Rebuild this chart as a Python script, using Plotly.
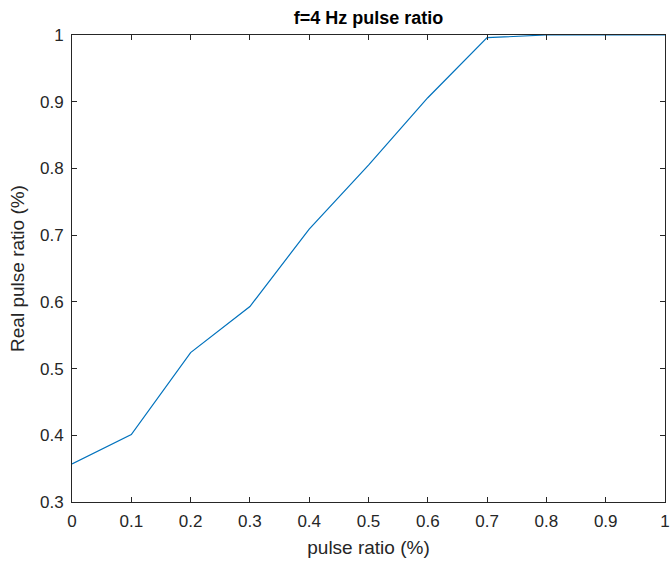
import plotly.graph_objects as go

pulse_ratio = [0, 0.1, 0.2, 0.3, 0.4, 0.5, 0.6, 0.7, 0.8, 0.9, 1.0]
real_ratio = [0.357, 0.401, 0.524, 0.593, 0.709, 0.805, 0.906, 0.996, 1.0, 1.0, 1.0]
x_ticks = [0, 0.1, 0.2, 0.3, 0.4, 0.5, 0.6, 0.7, 0.8, 0.9, 1]
x_tick_labels = ["0", "0.1", "0.2", "0.3", "0.4", "0.5", "0.6", "0.7", "0.8", "0.9", "1"]
y_ticks = [0.3, 0.4, 0.5, 0.6, 0.7, 0.8, 0.9, 1.0]
y_tick_labels = ["0.3", "0.4", "0.5", "0.6", "0.7", "0.8", "0.9", "1"]

font_family = "Liberation Sans, Arial, sans-serif"

fig = go.Figure()
fig.add_trace(go.Scatter(
    x=pulse_ratio, y=real_ratio, mode="lines",
    line=dict(color="#0072BD", width=1.2),
    showlegend=False,
))

axis_common = dict(
    showline=True, linecolor="#262626", linewidth=1, mirror="ticks",
    ticks="inside", ticklen=5, tickcolor="#262626", tickwidth=1,
    showgrid=False, zeroline=False, ticklabeloverflow="allow",
    automargin=False,
    tickfont=dict(family=font_family, size=17, color="#262626"),
)

fig.update_layout(
    width=670, height=563,
    margin=dict(l=72, r=5, t=35, b=61, autoexpand=False),
    paper_bgcolor="white", plot_bgcolor="white",
    title=dict(text="<b>f=4 Hz pulse ratio</b>", x=0.5, xanchor="center",
               xref="paper", y=1, yref="paper", yanchor="bottom",
               pad=dict(b=11),
               font=dict(family=font_family, size=18, color="#000000")),
    xaxis=dict(range=[0, 1], tickvals=x_ticks, ticktext=x_tick_labels,
               ticklabelstandoff=4,
               title=dict(text="pulse ratio (%)", standoff=10,
                          font=dict(family=font_family, size=19, color="#262626")),
               **axis_common),
    yaxis=dict(range=[0.3, 1], tickvals=y_ticks, ticktext=y_tick_labels,
               ticklabelstandoff=4,
               title=dict(text="Real pulse ratio (%)", standoff=10,
                          font=dict(family=font_family, size=19, color="#262626")),
               **axis_common),
)

fig.write_html("out.html")
